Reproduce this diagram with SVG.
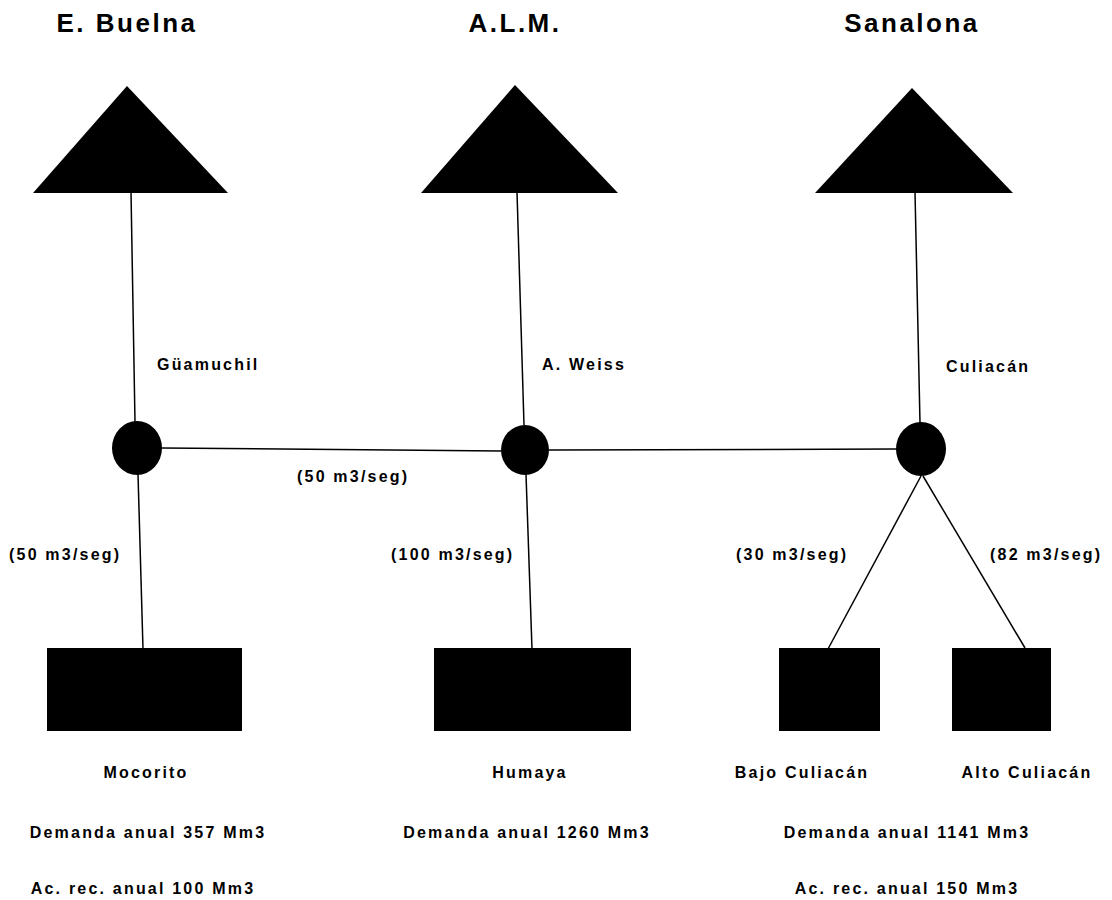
<svg xmlns="http://www.w3.org/2000/svg" width="1112" height="900" viewBox="0 0 1112 900">
  <style>
    text { font-family: "Liberation Sans", Arial, sans-serif; font-weight: bold; fill: #000; }
    .title { font-size: 26px; letter-spacing: 2.5px; text-anchor: middle; }
    .lbl { font-size: 16px; letter-spacing: 2.2px; }
    .mid { text-anchor: middle; }
    .wire { stroke: #000; stroke-width: 1.5; fill: none; }
    .solid { fill: #000; stroke: none; }
  </style>

  <!-- connectors: reservoirs to stations, stations to demand zones, interconnection -->
  <g id="connectors">
    <line class="wire" x1="131" y1="192" x2="135" y2="422"/>
    <line class="wire" x1="517" y1="192" x2="524" y2="425"/>
    <line class="wire" x1="915" y1="192" x2="920" y2="423"/>
    <line class="wire" x1="162" y1="448" x2="501" y2="451"/>
    <line class="wire" x1="549" y1="450" x2="896" y2="449"/>
    <line class="wire" x1="138" y1="474" x2="143" y2="649"/>
    <line class="wire" x1="526" y1="474" x2="532" y2="649"/>
    <line class="wire" x1="921" y1="476" x2="828" y2="649"/>
    <line class="wire" x1="923" y1="476" x2="1025" y2="648"/>
  </g>

  <!-- reservoirs -->
  <g id="res-buelna">
    <text class="title" x="127" y="32">E. Buelna</text>
    <polygon class="solid" points="127,86 228,193 33,193"/>
  </g>
  <g id="res-alm">
    <text class="title" x="515" y="32">A.L.M.</text>
    <polygon class="solid" points="515,85 618,193 421,193"/>
  </g>
  <g id="res-sanalona">
    <text class="title" x="912" y="32">Sanalona</text>
    <polygon class="solid" points="912,88 1013,193 815,193"/>
  </g>

  <!-- gauging stations -->
  <g id="st-guamuchil">
    <ellipse class="solid" cx="137" cy="448" rx="25" ry="27"/>
    <text class="lbl" x="157" y="370">Güamuchil</text>
  </g>
  <g id="st-weiss">
    <ellipse class="solid" cx="525" cy="450" rx="24" ry="25"/>
    <text class="lbl" x="542" y="370">A. Weiss</text>
  </g>
  <g id="st-culiacan">
    <ellipse class="solid" cx="921" cy="449" rx="25" ry="27"/>
    <text class="lbl" x="946" y="372">Culiacán</text>
  </g>

  <!-- flow capacities -->
  <g id="flows">
    <text class="lbl" x="297" y="482">(50 m3/seg)</text>
    <text class="lbl" x="9" y="560">(50 m3/seg)</text>
    <text class="lbl" x="391" y="560">(100 m3/seg)</text>
    <text class="lbl" x="736" y="560">(30 m3/seg)</text>
    <text class="lbl" x="990" y="560">(82 m3/seg)</text>
  </g>

  <!-- irrigation districts -->
  <g id="dz-mocorito">
    <rect class="solid" x="47" y="648" width="195" height="83"/>
    <text class="lbl mid" x="146" y="778">Mocorito</text>
    <text class="lbl mid" x="148" y="838">Demanda anual 357 Mm3</text>
    <text class="lbl mid" x="143" y="894">Ac. rec. anual 100 Mm3</text>
  </g>
  <g id="dz-humaya">
    <rect class="solid" x="434" y="648" width="197" height="83"/>
    <text class="lbl mid" x="530" y="778">Humaya</text>
    <text class="lbl mid" x="527" y="838">Demanda anual 1260 Mm3</text>
  </g>
  <g id="dz-bajo">
    <rect class="solid" x="779" y="648" width="101" height="83"/>
    <text class="lbl mid" x="802" y="778">Bajo Culiacán</text>
  </g>
  <g id="dz-alto">
    <rect class="solid" x="952" y="648" width="99" height="83"/>
    <text class="lbl mid" x="1027" y="778">Alto Culiacán</text>
  </g>
  <g id="dz-culiacan-totals">
    <text class="lbl mid" x="907" y="838">Demanda anual 1141 Mm3</text>
    <text class="lbl mid" x="907" y="894">Ac. rec. anual 150 Mm3</text>
  </g>
</svg>
